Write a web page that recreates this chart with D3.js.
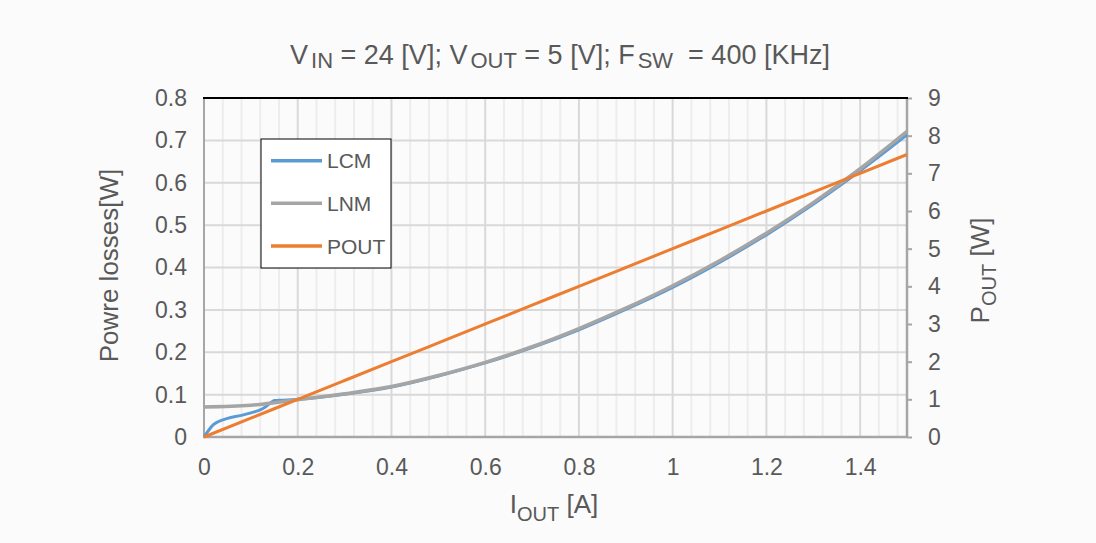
<!DOCTYPE html>
<html>
<head>
<meta charset="utf-8">
<script src="https://cdn.jsdelivr.net/npm/d3@7"></script>
<style>
  html, body { margin: 0; padding: 0; background: #fbfbfb; }
  text { font-family: "Liberation Sans", Arial, sans-serif; fill: #595959; }
</style>
</head>
<body>
<svg id="chart" width="1096" height="543"></svg>
<script>
// ---- data ----
const currentLNM = [0, 0.1, 0.2, 0.3, 0.4, 0.5, 0.6, 0.7, 0.8, 0.9, 1.0, 1.1, 1.2, 1.3, 1.4, 1.5];
const lossLNM    = [0.071, 0.075, 0.088, 0.102, 0.119, 0.145, 0.176, 0.213, 0.256, 0.304, 0.357, 0.416, 0.481, 0.553, 0.633, 0.721];
const currentLCM = [0, 0.01, 0.02, 0.03, 0.05, 0.08, 0.1, 0.12, 0.13, 0.14, 0.15, 0.17, 0.2, 0.3, 0.4, 0.5, 0.6, 0.7, 0.8, 0.9, 1.0, 1.1, 1.2, 1.3, 1.4, 1.5];
const lossLCM    = [0, 0.016, 0.029, 0.036, 0.044, 0.051, 0.057, 0.064, 0.070, 0.079, 0.086, 0.087, 0.089, 0.101, 0.118, 0.144, 0.175, 0.211, 0.253, 0.301, 0.353, 0.412, 0.477, 0.549, 0.628, 0.713];
const currentPOUT = [0, 0.1, 0.2, 0.3, 0.4, 0.5, 0.6, 0.7, 0.8, 0.9, 1.0, 1.1, 1.2, 1.3, 1.4, 1.5];
const powerPOUT   = [0, 0.5, 1.0, 1.5, 2.0, 2.5, 3.0, 3.5, 4.0, 4.5, 5.0, 5.5, 6.0, 6.5, 7.0, 7.5];
const xTicks  = [0, 0.2, 0.4, 0.6, 0.8, 1.0, 1.2, 1.4];
const xMinor  = d3.range(0, 1.5, 0.04);
const yLTicks = [0, 0.1, 0.2, 0.3, 0.4, 0.5, 0.6, 0.7, 0.8];
const yRTicks = [0, 1, 2, 3, 4, 5, 6, 7, 8, 9];
const seriesNames = ["LCM", "LNM", "POUT"];
const titleParts = [["V", false], ["IN", true], [" = 24 [V]; V", false], ["OUT", true], [" = 5 [V]; F", false], ["SW", true], ["  = 400 [KHz]", false]];

// ---- layout ----
const svg = d3.select("#chart");
const L = 204, R = 907, T = 98, B = 437;
const x  = d3.scaleLinear([0, 1.5], [L, R]);
const yL = d3.scaleLinear([0, 0.8], [B, T]);
const yR = d3.scaleLinear([0, 9], [B, T]);
const colors = { LCM: "#5b9bd5", LNM: "#a5a5a5", POUT: "#ed7d31" };

// minor vertical grid
svg.append("g").selectAll("line").data(xMinor.filter(v => !xTicks.some(t => Math.abs(t - v) < 1e-6)))
  .join("line")
  .attr("x1", d => x(d)).attr("x2", d => x(d)).attr("y1", T).attr("y2", B)
  .attr("stroke", "#ededed").attr("stroke-width", 2);
// major vertical grid
svg.append("g").selectAll("line").data(xTicks.filter(v => v > 0))
  .join("line")
  .attr("x1", d => x(d)).attr("x2", d => x(d)).attr("y1", T).attr("y2", B)
  .attr("stroke", "#d9d9d9").attr("stroke-width", 2);
// major horizontal grid
svg.append("g").selectAll("line").data(yLTicks.filter(v => v > 0 && v < 0.8))
  .join("line")
  .attr("x1", L).attr("x2", R).attr("y1", d => yL(d)).attr("y2", d => yL(d))
  .attr("stroke", "#d9d9d9").attr("stroke-width", 2);

// axes
const axL = svg.append("g").attr("transform", `translate(${L},0)`)
  .call(d3.axisLeft(yL).tickValues(yLTicks).tickSize(0).tickPadding(17).tickFormat(d => d === 0 ? "0" : d3.format(".1f")(d)));
const axB = svg.append("g").attr("transform", `translate(0,${B})`)
  .call(d3.axisBottom(x).tickValues(xTicks).tickSize(0).tickPadding(21.5).tickFormat(d => (d === 0 || d === 1) ? String(d) : d3.format(".1f")(d)));
const axR = svg.append("g").attr("transform", `translate(${R},0)`)
  .call(d3.axisRight(yR).tickValues(yRTicks).tickSize(5).tickPadding(16));
[axL, axB, axR].forEach(g => {
  g.select(".domain").remove();
  g.selectAll("text").attr("font-size", 23).style("fill", "#595959").attr("font-family", "Liberation Sans, Arial, sans-serif");
  g.selectAll("line").attr("stroke", "#a6a6a6").attr("stroke-width", 2);
});
// axis lines
svg.append("line").attr("x1", L).attr("x2", L).attr("y1", T).attr("y2", B).attr("stroke", "#a6a6a6").attr("stroke-width", 2);
svg.append("line").attr("x1", L - 1).attr("x2", R).attr("y1", B).attr("y2", B).attr("stroke", "#a6a6a6").attr("stroke-width", 2.5);
svg.append("line").attr("x1", R).attr("x2", R).attr("y1", T).attr("y2", B + 1).attr("stroke", "#a6a6a6").attr("stroke-width", 2.5);
svg.append("line").attr("x1", L - 1).attr("x2", R + 1).attr("y1", T).attr("y2", T).attr("stroke", "#000").attr("stroke-width", 2);

// series
const lineL = d3.line().x(d => x(d[0])).y(d => yL(d[1])).curve(d3.curveMonotoneX);
const lineR = d3.line().x(d => x(d[0])).y(d => yR(d[1])).curve(d3.curveMonotoneX);
svg.append("path").datum(d3.zip(currentLCM, lossLCM)).attr("d", lineL)
  .attr("fill", "none").attr("stroke", colors.LCM).attr("stroke-width", 3).attr("stroke-linejoin", "round");
svg.append("path").datum(d3.zip(currentLNM, lossLNM)).attr("d", lineL)
  .attr("fill", "none").attr("stroke", colors.LNM).attr("stroke-width", 3.5).attr("stroke-linejoin", "round");
svg.append("path").datum(d3.zip(currentPOUT, powerPOUT)).attr("d", lineR)
  .attr("fill", "none").attr("stroke", colors.POUT).attr("stroke-width", 3).attr("stroke-linejoin", "round");

// legend
const lg = svg.append("g");
lg.append("rect").attr("x", 261).attr("y", 139).attr("width", 130).attr("height", 129)
  .attr("fill", "#ffffff").attr("stroke", "#000").attr("stroke-width", 1);
seriesNames.forEach((n, i) => {
  const yy = 160.7 + i * 42.6;
  lg.append("line").attr("x1", 271).attr("x2", 322).attr("y1", yy).attr("y2", yy)
    .attr("stroke", colors[n]).attr("stroke-width", 3.5);
  lg.append("text").attr("x", 327).attr("y", yy + 7.6).attr("font-size", 21).text(n);
});

// title
const title = svg.append("text").attr("x", 560).attr("y", 64).attr("text-anchor", "middle").attr("font-size", 27);
let sub = false;
titleParts.forEach(([t, isSub]) => {
  const ts = title.append("tspan").text(t).attr("xml:space", "preserve").style("white-space", "pre");
  if (isSub && !sub) ts.attr("dy", 4).attr("font-size", 22).attr("dx", 3);
  else if (!isSub && sub) ts.attr("dy", -4);
  sub = isSub;
});

// x axis title
const xt = svg.append("text").attr("x", 554).attr("y", 513).attr("text-anchor", "middle").attr("font-size", 26);
xt.append("tspan").text("I");
xt.append("tspan").text("OUT").attr("font-size", 20).attr("dy", 7.5);
xt.append("tspan").text(" [A]").attr("dy", -7.5).style("white-space", "pre");

// left y title
svg.append("text").attr("transform", "translate(118,265.5) rotate(-90)").attr("text-anchor", "middle")
  .attr("font-size", 26).text("Powre losses[W]");

// right y title
const rt = svg.append("text").attr("transform", "translate(989,270.5) rotate(-90)").attr("text-anchor", "middle").attr("font-size", 26);
rt.append("tspan").text("P");
rt.append("tspan").text("OUT").attr("font-size", 20).attr("dy", 7);
rt.append("tspan").text(" [W]").attr("dy", -7).style("white-space", "pre");
</script>
</body>
</html>
